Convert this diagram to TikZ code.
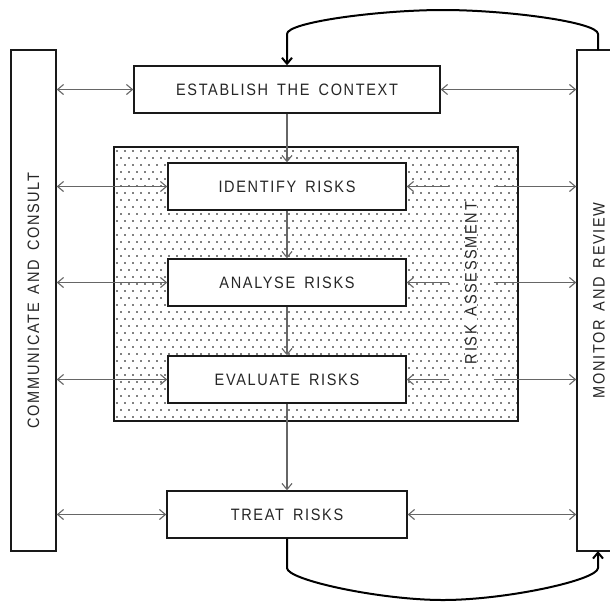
\documentclass[tikz,border=0pt]{standalone}
\usepackage{fontspec}
\newfontfamily\lbl{Liberation Sans}[FakeStretch=0.88,LetterSpace=10,WordSpace=1.6]
\usetikzlibrary{arrows.meta}
\begin{document}
\begin{tikzpicture}[x=1pt,y=-1pt,
  lbltext/.style={font=\lbl\fontsize{16.5}{19}\selectfont, text=black!85},
  stepbox/.style={draw=black!90, line width=1.4, fill=white, minimum width=238, minimum height=47, inner sep=0, lbltext},
  sidebox/.style={draw=black!90, line width=1.4, fill=white, minimum width=45, minimum height=501, inner sep=0},
  harr/.style={draw=black!60, line width=1.1, {Straight Barb[length=6pt,width=10pt]}-{Straight Barb[length=6pt,width=10pt]}},
  sarrL/.style={draw=black!60, line width=1.1, {Straight Barb[length=6pt,width=10pt]}-},
  sarrR/.style={draw=black!60, line width=1.1, -{Straight Barb[length=6pt,width=10pt]}},
  varr/.style={draw=black!60, line width=1.1, -{Straight Barb[length=6pt,width=10pt]}},
  looparr/.style={draw=black, line width=2, -{Straight Barb[length=6pt,width=10pt]}}
]
\useasboundingbox (0,0) rectangle (610,603);
\clip (0,0) rectangle (610,603);

% risk assessment region with dots
\node[draw=black!90, line width=1.4, minimum width=404, minimum height=274, inner sep=0] (ra) at (316,284) {};
\begin{scope}
  \clip (114,147) rectangle (518,421);
  \foreach \j in {0,...,39}{
    \pgfmathsetmacro\off{mod(\j,2)*4}
    \foreach \i in {0,...,51}{
      \fill[black] (117+\off+8*\i, 151+7*\j) circle (0.8);
    }
  }
\end{scope}
\draw[black!90, line width=1.4] (114,147) rectangle (518,421);

% side boxes
\node[sidebox] (comm) at (33.5,300.5) {};
\node[lbltext, rotate=90] at (comm.center) {COMMUNICATE AND CONSULT};
\node[sidebox, minimum width=44] (mon) at (599,300.5) {};
\node[lbltext, rotate=90] at (mon.center) {MONITOR AND REVIEW};

% steps
\node[stepbox, minimum width=306] (est) at (287,89.5) {ESTABLISH THE CONTEXT};
\node[stepbox] (ident) at (287,186.5) {IDENTIFY RISKS};
\node[stepbox] (anal) at (287,282.5) {ANALYSE RISKS};
\node[stepbox] (eval) at (287,379.5) {EVALUATE RISKS};
\node[stepbox, minimum width=240] (treat) at (287,514.5) {TREAT RISKS};

\node[lbltext, rotate=90, fill=white, inner sep=0.5] (ralbl) at (471,283) {RISK ASSESSMENT};

% vertical flow
\draw[varr] (est.south) -- (ident.north);
\draw[varr] (ident.south) -- (anal.north);
\draw[varr] (anal.south) -- (eval.north);
\draw[varr] (eval.south) -- (treat.north);

% left connectors
\foreach \n in {est,ident,anal,eval,treat}{
  \draw[harr] (comm.east |- \n.west) -- (\n.west);
}
% right connectors
\draw[harr] (est.east) -- (mon.west |- est.east);
\draw[harr] (treat.east) -- (mon.west |- treat.east);
\foreach \n in {ident,anal,eval}{
  \path (\n.east) ++(42,0) coordinate (\n a);
  \path (\n.east) ++(87,0) coordinate (\n b);
  \draw[sarrL] (\n.east) -- (\n a);
  \draw[sarrR] (\n b) -- (mon.west |- \n.east);
}

% loops
\coordinate (mtop) at (598,50);
\coordinate (mbot) at (598,551);
\draw[looparr] (mtop) -- (598,34) .. controls (598,22) and (506,10) .. (443,10)
  .. controls (380,10) and (287,22) .. (287,34) -- (est.north);
\draw[looparr] (treat.south) -- (287,568) .. controls (287,580) and (380,600) .. (443,600)
  .. controls (506,600) and (598,580) .. (598,568) -- (mbot);
\end{tikzpicture}
\end{document}
